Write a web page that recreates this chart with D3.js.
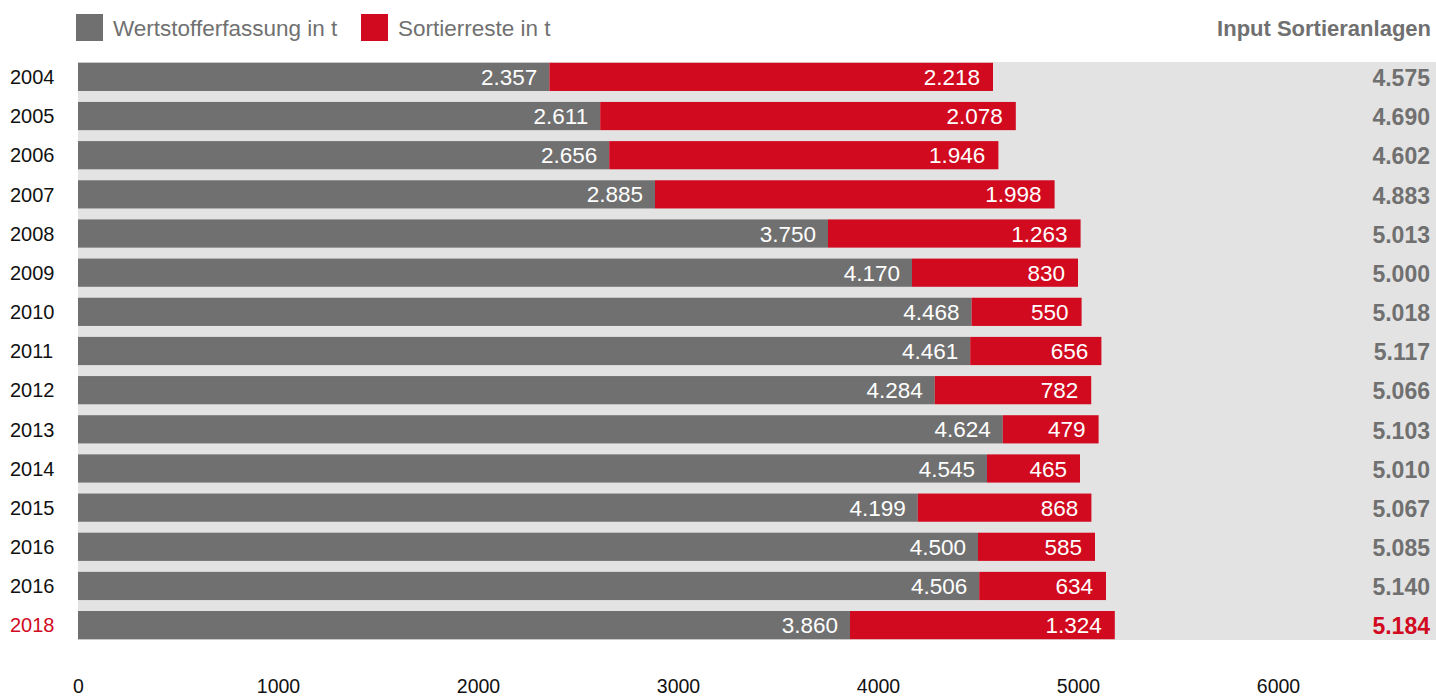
<!DOCTYPE html>
<html>
<head>
<meta charset="utf-8">
<script src="https://cdn.jsdelivr.net/npm/d3@7"></script>
<style>
  html, body { margin: 0; padding: 0; background: #fff; }
  svg { display: block; font-family: "Liberation Sans", Arial, Helvetica, sans-serif; }
</style>
</head>
<body>
<svg id="chart" width="1436" height="698"></svg>
<script>
// Sorting plant input per year, in tonnes
const years = ["2004", "2005", "2006", "2007", "2008", "2009", "2010", "2011",
               "2012", "2013", "2014", "2015", "2016", "2016", "2018"];
const recovered = [2357, 2611, 2656, 2885, 3750, 4170, 4468, 4461,
                   4284, 4624, 4545, 4199, 4500, 4506, 3860];
const residues = [2218, 2078, 1946, 1998, 1263, 830, 550, 656,
                  782, 479, 465, 868, 585, 634, 1324];
const totals = [4575, 4690, 4602, 4883, 5013, 5000, 5018, 5117,
                5066, 5103, 5010, 5067, 5085, 5140, 5184];
const xTicks = [0, 1000, 2000, 3000, 4000, 5000, 6000];
const seriesNames = ["Wertstofferfassung in t", "Sortierreste in t"];
const totalTitle = "Input Sortieranlagen";

const GREY = "#707070", RED = "#d10a1f", PANEL = "#e3e3e3";
const highlight = years.length - 1;

const de = d3.formatLocale({ decimal: ",", thousands: ".", grouping: [3], currency: ["", " €"] });
const fmt = de.format(",d");

const svg = d3.select("#chart");
const W = 1436;
const plotLeft = 78, plotTop = 62, plotBottom = 640;

const x = d3.scaleLinear().domain([0, 6000]).range([plotLeft, plotLeft + 1200]);
const y = d3.scaleBand()
  .domain(d3.range(years.length))
  .range([plotTop, plotBottom])
  .paddingInner(0.28)
  .paddingOuter(0.02);

// light panel behind the rows
svg.append("rect")
  .attr("x", plotLeft).attr("y", plotTop)
  .attr("width", W - plotLeft).attr("height", plotBottom - plotTop)
  .attr("fill", PANEL);

const rows = svg.append("g").selectAll("g")
  .data(d3.range(years.length))
  .join("g");

rows.append("rect")
  .attr("x", x(0))
  .attr("y", i => y(i))
  .attr("width", i => x(recovered[i]) - x(0))
  .attr("height", y.bandwidth())
  .attr("fill", GREY);

rows.append("rect")
  .attr("x", i => x(recovered[i]))
  .attr("y", i => y(i))
  .attr("width", i => x(recovered[i] + residues[i]) - x(recovered[i]))
  .attr("height", y.bandwidth())
  .attr("fill", RED);

const mid = i => y(i) + y.bandwidth() / 2;

rows.append("text")
  .attr("x", i => x(recovered[i]) - 12)
  .attr("y", mid)
  .attr("dy", "0.36em")
  .attr("text-anchor", "end")
  .attr("fill", "#fff")
  .attr("font-size", 22.5)
  .text(i => fmt(recovered[i]));

rows.append("text")
  .attr("x", i => x(recovered[i] + residues[i]) - 13)
  .attr("y", mid)
  .attr("dy", "0.36em")
  .attr("text-anchor", "end")
  .attr("fill", "#fff")
  .attr("font-size", 22.5)
  .text(i => fmt(residues[i]));

// year labels
rows.append("text")
  .attr("x", 10)
  .attr("y", mid)
  .attr("dy", "0.36em")
  .attr("fill", i => i === highlight ? RED : "#111")
  .attr("font-size", 20)
  .text(i => years[i]);

// totals column
rows.append("text")
  .attr("x", 1430)
  .attr("y", mid)
  .attr("dy", "0.4em")
  .attr("text-anchor", "end")
  .attr("fill", i => i === highlight ? RED : GREY)
  .attr("font-size", 23)
  .attr("font-weight", "bold")
  .text(i => fmt(totals[i]));

svg.append("text")
  .attr("x", 1431).attr("y", 28)
  .attr("dy", "0.36em")
  .attr("text-anchor", "end")
  .attr("fill", GREY)
  .attr("font-size", 22)
  .attr("font-weight", "bold")
  .text(totalTitle);

// legend
const legend = svg.append("g");
const legendX = [76, 361];
[GREY, RED].forEach((c, k) => {
  legend.append("rect")
    .attr("x", legendX[k]).attr("y", 14)
    .attr("width", 27).attr("height", 27)
    .attr("fill", c);
  legend.append("text")
    .attr("x", legendX[k] + 37).attr("y", 28)
    .attr("dy", "0.36em")
    .attr("fill", GREY)
    .attr("font-size", 22.5)
    .text(seriesNames[k]);
});

// bottom axis labels
const axis = d3.axisBottom(x).tickValues(xTicks).tickSize(0).tickPadding(0).tickFormat(d3.format("d"));
const ax = svg.append("g").attr("transform", "translate(0,679)").call(axis);
ax.select(".domain").remove();
ax.selectAll("text")
  .attr("font-size", 19.5)
  .attr("font-family", "'Liberation Sans', Arial, sans-serif")
  .attr("fill", "#111");
</script>
</body>
</html>
